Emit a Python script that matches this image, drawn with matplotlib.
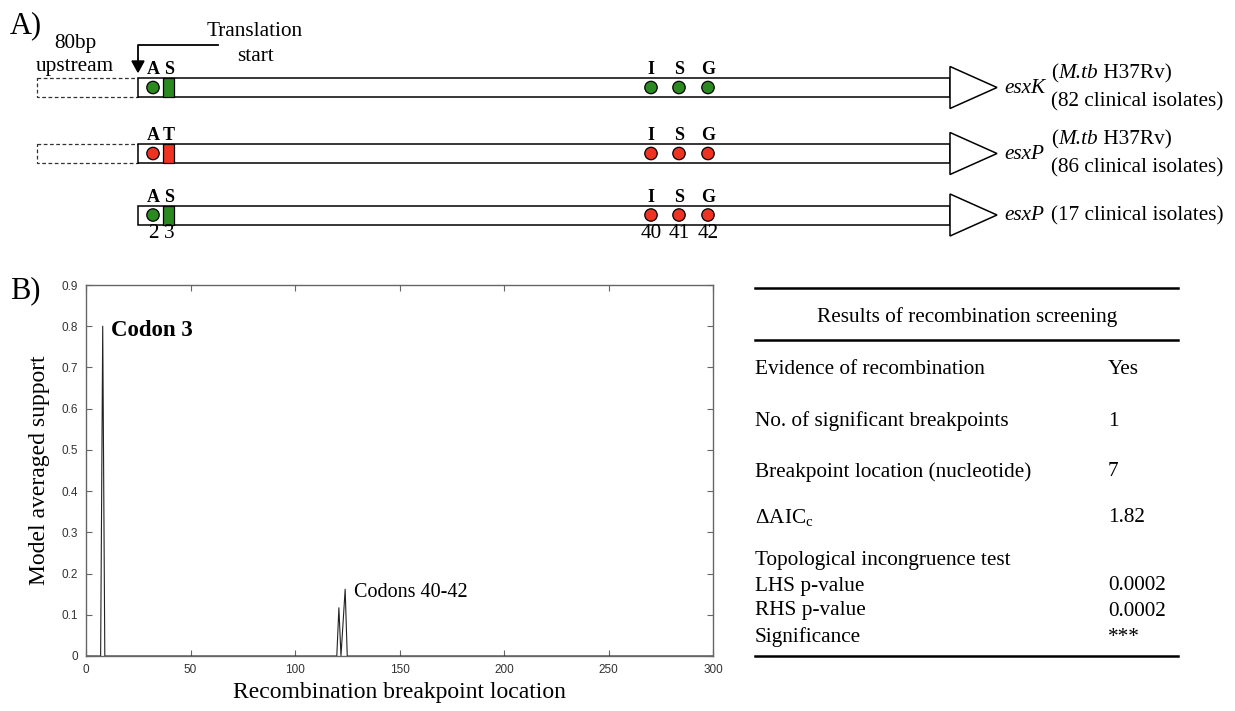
"""
esxK / esxP: esquema de codones y soporte de recombinación (GARD).
Panel A: esquema de genes; panel B: soporte promediado por posición + tabla de resultados.
"""
import matplotlib
matplotlib.use("Agg")
import matplotlib.pyplot as plt
from matplotlib.patches import Rectangle, Circle, Polygon
from matplotlib.ticker import FuncFormatter

plt.rcParams["font.family"] = ["Liberation Serif", "DejaVu Serif"]
plt.rcParams["mathtext.fontset"] = "custom"
plt.rcParams["mathtext.rm"] = "Liberation Serif"
plt.rcParams["mathtext.it"] = "Liberation Serif:italic"
plt.rcParams["mathtext.bf"] = "Liberation Serif:bold"

# --- datos panel A ---
GENES = ["esxK", "esxP", "esxP"]
CEPA_REF = [True, True, False]          # fila con "(M.tb H37Rv)"
AISLADOS = ["(82 clinical isolates)", "(86 clinical isolates)", "(17 clinical isolates)"]
UPSTREAM = [True, True, False]
COD_INICIO = [["A", "S"], ["A", "T"], ["A", "S"]]
COD_CENTRO = ["I", "S", "G"]
COLOR_INICIO = ["green", "red", "green"]
COLOR_CENTRO = ["green", "red", "red"]
NUM_INICIO = ["2", "3"]
NUM_CENTRO = ["40", "41", "42"]

# --- datos panel B ---
BREAKPOINT_POS = [0, 7, 8, 9, 120, 121, 122, 124, 125, 300]
SUPPORT = [0, 0, 0.80, 0, 0, 0.117, 0, 0.162, 0, 0]

TABLA_FILAS = ["Evidence of recombination", "No. of significant breakpoints",
               "Breakpoint location (nucleotide)", "$\\Delta$AIC$_\\mathrm{c}$",
               "Topological incongruence test", "LHS p-value", "RHS p-value", "Significance"]
TABLA_VALORES = ["Yes", "1", "7", "1.82", "", "0.0002", "0.0002", "***"]

VERDE = "#2b8a1f"
ROJO = "#ee3322"
COLORES = {"green": VERDE, "red": ROJO}

W, H = 1235, 711
fig = plt.figure(figsize=(W / 100, H / 100), dpi=100)

# capa en pixeles para el esquema y la tabla
bg = fig.add_axes([0, 0, 1, 1])
bg.set_xlim(0, W)
bg.set_ylim(H, 0)
bg.axis("off")

FS = 15.3
bg.text(10, 26, "A)", fontsize=22, va="center", ha="left")
bg.text(10, 291, "B)", fontsize=22, va="center", ha="left")
bg.text(75, 55, "80bp\nupstream", fontsize=FS, ha="center", va="center", linespacing=1.35)
bg.text(255, 44, "Translation\nstart", fontsize=FS, ha="center", va="center", linespacing=1.45)
bg.plot([218, 138, 138], [45, 45, 64], color="black", lw=1.3)
bg.add_patch(Polygon([(132, 61), (144, 61), (138, 72)], closed=True, color="black"))

fila_y = [87.5, 153.5, 215]
x_ini, x_fin, x_tri = 138, 950, 997
for i, yc in enumerate(fila_y):
    h = 19
    if UPSTREAM[i]:
        bg.add_patch(Rectangle((37, yc - h / 2), x_ini - 37, h, fill=False,
                               ls=(0, (3, 2)), lw=0.9, ec="#333333"))
    bg.add_patch(Rectangle((x_ini, yc - h / 2), x_fin - x_ini, h, fc="white", ec="black", lw=1.1))
    bg.add_patch(Polygon([(x_fin, yc - 21), (x_fin, yc + 21), (x_tri, yc)], closed=True,
                         fc="white", ec="black", lw=1.1))
    col = COLORES[COLOR_INICIO[i]]
    bg.add_patch(Circle((153, yc), 6.2, fc=col, ec="black", lw=0.9))
    bg.add_patch(Rectangle((163, yc - h / 2), 11, h, fc=col, ec="black", lw=0.9))
    for lab, xl in zip(COD_INICIO[i], [153, 169]):
        bg.text(xl, yc - 18, lab, fontsize=13, weight="bold", ha="center", va="center")
    colc = COLORES[COLOR_CENTRO[i]]
    for lab, xl in zip(COD_CENTRO, [651, 679, 708]):
        bg.add_patch(Circle((xl, yc), 6.2, fc=colc, ec="black", lw=0.9))
        bg.text(xl, yc - 18, lab, fontsize=13, weight="bold", ha="center", va="center")
    bg.text(1004, yc + 1, GENES[i], fontsize=FS, style="italic", ha="left", va="center")
    if CEPA_REF[i]:
        t1 = bg.text(1051, yc - 14, "(", fontsize=FS, ha="left", va="center")
        t2 = bg.annotate("M.tb", xy=(1, 0), xycoords=t1, fontsize=FS, style="italic",
                         ha="left", va="bottom")
        bg.annotate(" H37Rv)", xy=(1, 0), xycoords=t2, fontsize=FS, ha="left", va="bottom")
        bg.text(1051, yc + 14, AISLADOS[i], fontsize=FS, ha="left", va="center")
    else:
        bg.text(1051, yc + 1, AISLADOS[i], fontsize=FS, ha="left", va="center")

for lab, xl in zip(NUM_INICIO, [153, 169]):
    bg.text(xl, 234, lab, fontsize=FS, ha="center", va="center")
for lab, xl in zip(NUM_CENTRO, [651, 679, 708]):
    bg.text(xl, 234, lab, fontsize=FS, ha="center", va="center")

# tabla
for yl in [288, 340, 656]:
    bg.plot([755, 1178], [yl, yl], color="black", lw=1.8)
bg.text(967, 317, "Results of recombination screening", fontsize=FS, ha="center", va="center")
fila_ty = [369, 421, 472, 518, 560, 586, 611, 637]
for lab, val, yt in zip(TABLA_FILAS, TABLA_VALORES, fila_ty):
    bg.text(755, yt, lab, fontsize=FS, ha="left", va="center")
    bg.text(1108, yt, val, fontsize=FS, ha="left", va="center")

# panel B
ax = fig.add_axes([86 / W, 1 - 656 / H, 627 / W, 371 / H])
ax.plot(BREAKPOINT_POS, SUPPORT, color="#222222", lw=0.8)
ax.set_xlim(0, 300)
ax.set_ylim(0, 0.9)
ax.set_xticks(range(0, 301, 50))
ax.set_yticks([i / 10 for i in range(10)])
ax.yaxis.set_major_formatter(FuncFormatter(lambda v, p: "0" if v == 0 else f"{v:.1f}"))
ax.tick_params(direction="in", top=True, right=True, length=4, color="#666666",
               labelsize=8.5, labelcolor="#333333", pad=6)
for lab in ax.get_xticklabels() + ax.get_yticklabels():
    lab.set_family("Liberation Sans")
for s in ax.spines.values():
    s.set_color("#666666")
    s.set_linewidth(1.0)
ax.set_xlabel("Recombination breakpoint location", fontsize=17)
ax.set_ylabel("Model averaged support", fontsize=17)
ax.xaxis.set_label_coords(0.5, -0.07)
ax.yaxis.set_label_coords(-0.058, 0.5)
ax.text(12, 0.79, "Codon 3", fontsize=16.5, weight="bold", va="center", ha="left")
ax.text(128, 0.155, "Codons 40-42", fontsize=14.5, va="center", ha="left")

fig.savefig("out.png", dpi=100)
